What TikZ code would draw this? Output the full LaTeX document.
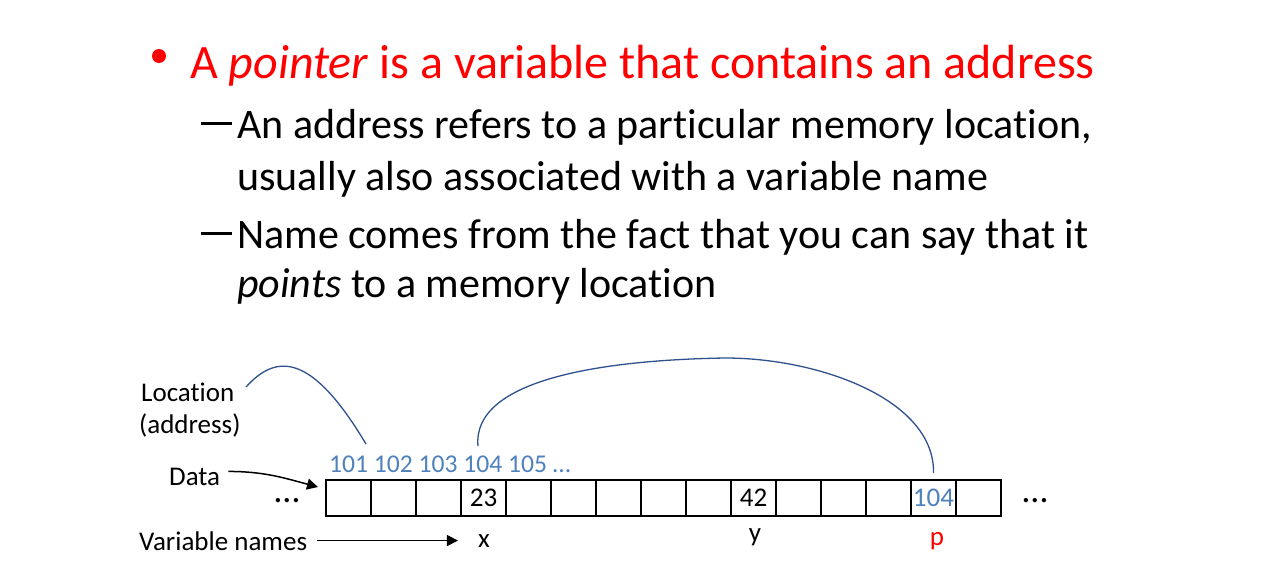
\documentclass[tikz,border=0pt]{standalone}
\usepackage{fontspec}
\setmainfont{Carlito}[Ligatures=NoCommon]
\usetikzlibrary{arrows.meta,positioning,calc}
\definecolor{rojo}{RGB}{255,0,0}
\definecolor{dirc}{RGB}{79,129,189}
\definecolor{curva}{RGB}{47,82,143}
\tikzset{
  big/.style={font=\fontsize{48}{56}\selectfont, inner sep=0pt, anchor=base west},
  sub/.style={font=\fontsize{42}{50}\selectfont, inner sep=0pt, anchor=base west},
  lbl/.style={font=\fontsize{27}{32}\selectfont, inner sep=0pt, anchor=base west},
  raya/.style={fill=black, minimum width=31pt, minimum height=3.3pt, inner sep=0pt},
  cell/.style={draw, line width=1.5pt, minimum width=45pt, minimum height=36pt, inner sep=0pt, outer sep=0pt, font=\fontsize{27}{30}\selectfont},
  puntos/.style={font=\fontsize{36}{40}\selectfont, inner sep=0pt},
  fl/.style={-{Triangle[length=11pt,width=11pt]}, line width=1.5pt},
  arco/.style={curva, line width=1.3pt},
}

\begin{document}
\begin{tikzpicture}[x=1pt, y=-1pt]
  \useasboundingbox (0,0) rectangle (1267,581);
  \fill[white] (0,0) rectangle (1267,581);
  % bullets
  \node[circle, fill=rojo, minimum size=14pt, inner sep=0pt] (bul) at (159,56) {};
  \node[big, text=rojo] (title) at (190,78) {A \textit{pointer} is a variable that contains an address};
  \node[raya] (dash1) at (216.5,123.5) {};
  \node[sub] (sub1a) at (237,138) {An address refers to a particular memory location,};
  \node[sub] (sub1b) at (237,190) {usually also associated with a variable name};
  \node[raya] (dash2) at (216.5,233.5) {};
  \node[sub] (sub2a) at (237,248) {Name comes from the fact that you can say that it};
  \node[sub] (sub2b) at (237,297) {\textit{points} to a memory location};
  % memory row
  \node[lbl] (loc1) at (141,401) {Location};
  \node[lbl] (loc2) at (139,433) {(address)};
  \node[lbl] (data) at (169,485) {Data};
  \node[lbl] (varn) at (139,550) {Variable names};
  \node[lbl, text=dirc, font=\fontsize{25.6}{30}\selectfont] (addrs) at (329,472) {101 102 103 104 105 …};
  \foreach \i/\v in {1/,2/,3/,4/23,5/,6/,7/,8/,9/,10/42,11/,12/,13/,14/{\textcolor{dirc}{104}},15/}
    \node[cell] (c\i) at ({303.5+45*\i},498) {\v};
  \node[puntos] (dotsl) at (287,501) {…};
  \node[puntos] (dotsr) at (1035,501) {…};
  \node[lbl, anchor=base] (lblx) at (484,547) {x};
  \node[lbl, anchor=base] (lbly) at (755,541) {y};
  \node[lbl, anchor=base, text=rojo] (lblp) at (937,545) {p};
  % connectors
  \coordinate (locpie) at (246,387);
  \coordinate (dir101) at (366,444);
  \coordinate (dir104) at (478,446);
  \coordinate (cima) at (725,358);
  \coordinate (datafin) at (318,487);
  \draw[arco] (locpie) .. controls (275,355) and (310,350) .. (dir101);
  \draw[arco] (dir104) .. controls (472,380) and (600,360) .. (cima)
    .. controls (820,358) and (935,400) .. ([yshift=7pt]c14.north);
  \draw[fl] ([xshift=8pt,yshift=5pt]data.east) to[out=0,in=165] (datafin);
  \draw[fl, shorten <=10pt, shorten >=20pt] (varn.east |- lblx.west) -- (lblx.west);
\end{tikzpicture}
\end{document}
